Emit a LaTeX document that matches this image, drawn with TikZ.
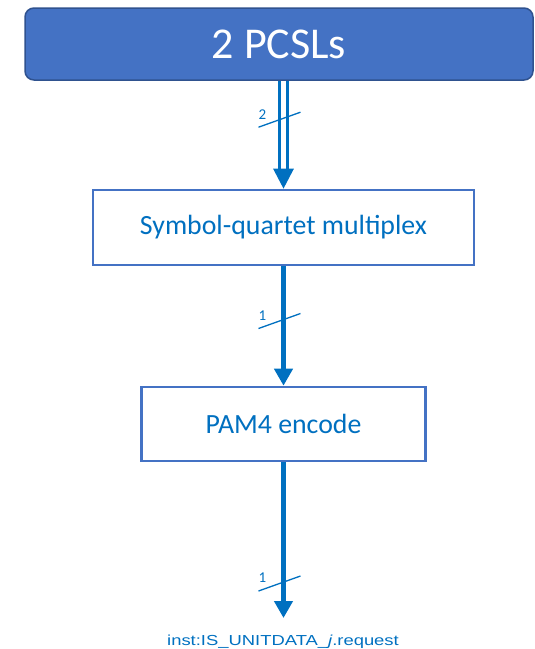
\documentclass[tikz,border=0pt]{standalone}
\usepackage{fontspec}
\setmainfont{Carlito}
\newfontfamily\arialfont{Liberation Sans}
\usetikzlibrary{arrows.meta}
\definecolor{hdrfill}{HTML}{4472C4}
\definecolor{hdrline}{HTML}{2F528F}
\definecolor{boxline}{HTML}{4472C4}
\definecolor{flowblue}{HTML}{0070C0}
\tikzset{
  header/.style={draw=hdrline, line width=1.5pt, fill=hdrfill, rounded corners=9pt,
    text=white, font=\fontsize{44}{48}\selectfont, inner sep=0pt},
  stage/.style={draw=boxline, line width=2.6pt, fill=white, text=flowblue,
    font=\fontsize{27.8}{30}\selectfont, inner sep=0pt},
  flow/.style={draw=flowblue, line width=5.5pt,
    -{Triangle[length=17pt, width=18pt]}},
  dflow/.style={draw=flowblue, line width=3pt, double=white, double distance=4.4pt,
    -{Triangle[length=20pt, width=20pt]}},
  widthmark/.style={draw=flowblue, line width=1.3pt},
  widthlabel/.style={text=flowblue, font=\fontsize{15}{16}\selectfont, inner sep=0pt},
  pics/busmark/.style={code={
    \draw[widthmark] (-25,8.5) -- (17,-6.5);
    \node[widthlabel] at (-21,-4.5) {#1};
  }}
}
\begin{document}
\begin{tikzpicture}[x=1pt, y=-1pt]
  \useasboundingbox (0,0) rectangle (535,649);
  % processing chain
  \node[header, minimum width=508pt, minimum height=72pt] (pcsl) at (279,44) {2 PCSLs};
  \node[stage, minimum width=381pt, minimum height=75pt] (mux) at (283.5,227.5) {Symbol-quartet multiplex};
  \node[stage, minimum width=284pt, minimum height=74pt] (enc) at (283.5,424) {PAM4 encode};
  \coordinate (out) at (283.5,618);
  \node[text=flowblue, font=\arialfont\fontsize{14.5}{16}\selectfont, inner sep=0pt, anchor=base]
    (prim) at (283,645) {\scalebox{1.27}[1]{inst:IS\_UNITDATA\_\textit{j}.request}};
  % connectors
  \draw[dflow] (pcsl.south -| mux.north) -- (mux.north);
  \draw[flow] (mux.south) -- (enc.north);
  \draw[flow] (enc.south) -- (out);
  % bus width marks
  \path (283.5,118.7) pic {busmark=2};
  \path (283.5,320) pic {busmark=1};
  \path (283.5,582.5) pic {busmark=1};
\end{tikzpicture}
\end{document}
